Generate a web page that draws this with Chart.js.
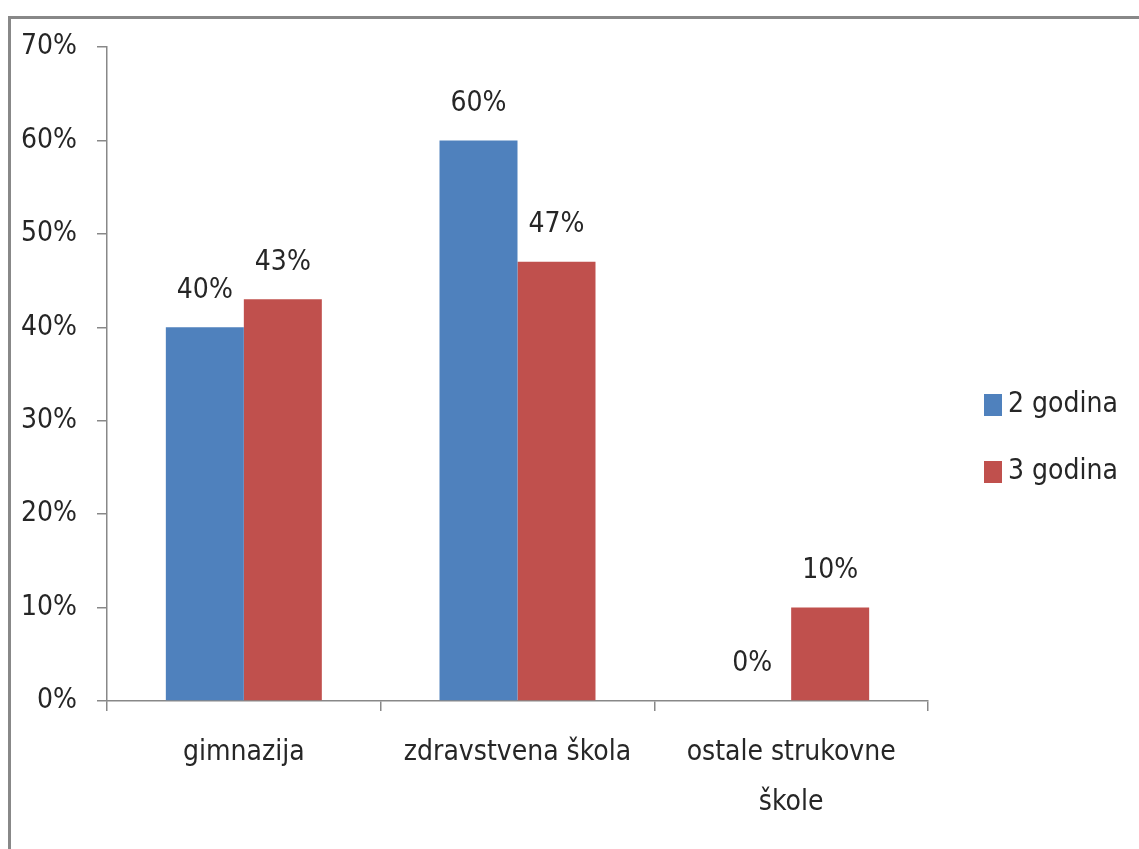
<!DOCTYPE html>
<html>
<head>
<meta charset="utf-8">
<script src="https://cdn.jsdelivr.net/npm/chart.js@4"></script>
<style>
    html, body { margin: 0; padding: 0; background: #fff; overflow: hidden; }
    #frame {
        position: absolute; left: 8px; top: 16px;
        width: 1128px; height: 830px;
        border-top: 3px solid #888; border-left: 3px solid #888;
    }
    canvas { display: block; }
</style>
</head>
<body>
<div id="frame"><canvas id="barChart" width="1128" height="830"></canvas></div>
<script>
const categories = ['gimnazija', 'zdravstvena škola', ['ostale strukovne', 'škole']];
const seriesNames = ['2 godina', '3 godina'];
const twoYears = [40, 60, 0];
const threeYears = [43, 47, 10];
const seriesColors = ['#4F81BD', '#C0504D'];

const textColor = '#262626';
const axisColor = '#888888';
const fontFamily = "'DejaVu Sans Condensed', 'Liberation Sans Narrow', sans-serif";
const fontSize = 28;

Chart.defaults.font.family = fontFamily;
Chart.defaults.font.size = fontSize;
Chart.defaults.color = textColor;

// percent labels above each bar
const valueLabels = {
    id: 'valueLabels',
    afterDatasetsDraw(chart) {
        const ctx = chart.ctx;
        ctx.save();
        ctx.font = fontSize + 'px ' + fontFamily;
        ctx.fillStyle = textColor;
        ctx.textAlign = 'center';
        ctx.textBaseline = 'middle';
        chart.data.datasets.forEach((ds, i) => {
            chart.getDatasetMeta(i).data.forEach((bar, j) => {
                ctx.fillText(ds.data[j] + '%', bar.x, bar.y - 37);
            });
        });
        ctx.restore();
    }
};

// legend on the right, drawn by hand to get the spacing right
const sideLegend = {
    id: 'sideLegend',
    afterDraw(chart) {
        const ctx = chart.ctx;
        const area = chart.chartArea;
        ctx.save();
        ctx.font = fontSize + 'px ' + fontFamily;
        ctx.textBaseline = 'middle';
        ctx.textAlign = 'left';
        chart.data.datasets.forEach((ds, i) => {
            const y = chart.height / 2 - 29 + i * 67;
            ctx.fillStyle = ds.backgroundColor;
            ctx.fillRect(area.right + 56, y - 11, 18, 22);
            ctx.fillStyle = textColor;
            ctx.fillText(ds.label, area.right + 80, y);
        });
        ctx.restore();
    }
};

const chart = new Chart(document.getElementById('barChart'), {
    type: 'bar',
    data: {
        labels: categories,
        datasets: [
            { label: seriesNames[0], data: twoYears, backgroundColor: seriesColors[0] },
            { label: seriesNames[1], data: threeYears, backgroundColor: seriesColors[1] }
        ]
    },
    options: {
        responsive: false,
        animation: false,
        categoryPercentage: 0.57,
        barPercentage: 1,
        layout: { padding: { top: 0, right: 211, left: 0, bottom: 0 } },
        plugins: {
            legend: { display: false },
            tooltip: { enabled: false }
        },
        scales: {
            x: {
                grid: { display: true, drawOnChartArea: false, drawTicks: true, tickLength: 10, color: axisColor, lineWidth: 1.5 },
                border: { display: true, color: axisColor, width: 1.5 },
                ticks: { padding: 17, maxRotation: 0, font: { size: fontSize, lineHeight: 1.78 } },
                afterFit: s => { s.height = 148; }
            },
            y: {
                min: 0,
                max: 70,
                grid: { display: true, drawOnChartArea: false, drawTicks: true, tickLength: 10, color: axisColor, lineWidth: 1.5 },
                border: { display: true, color: axisColor, width: 1.5 },
                // small lineHeight keeps the top padding at 28px
                ticks: { stepSize: 10, padding: 20, font: { size: fontSize, lineHeight: 0.57 }, callback: v => v + '%' },
                afterFit: s => { s.width = 96; }
            }
        }
    },
    plugins: [valueLabels, sideLegend]
});
</script>
</body>
</html>
